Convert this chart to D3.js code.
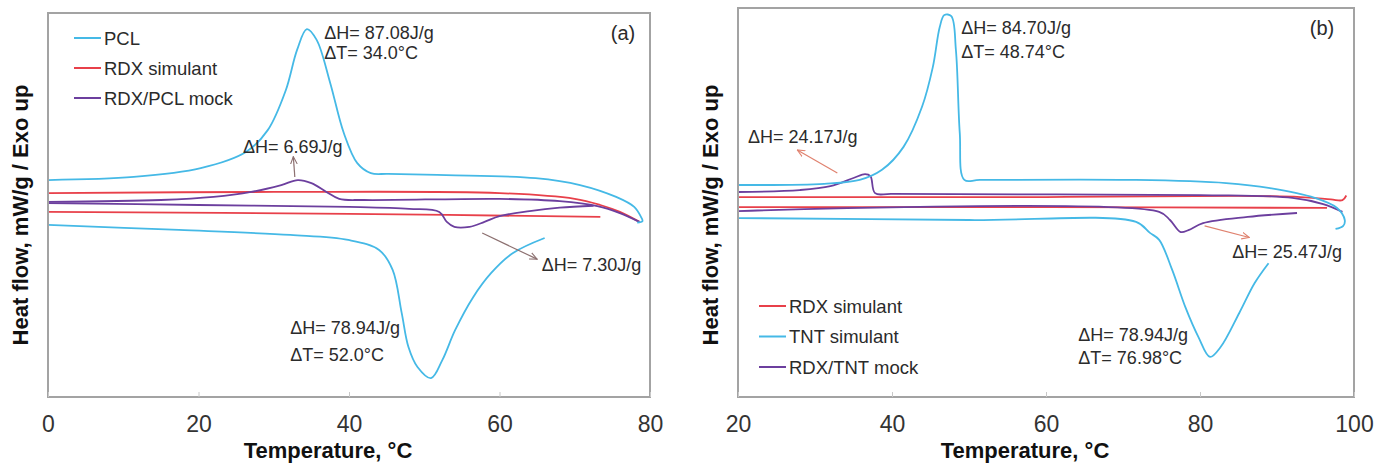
<!DOCTYPE html>
<html>
<head>
<meta charset="utf-8">
<script src="https://cdn.jsdelivr.net/npm/d3@7"></script>
<style>
  body { margin: 0; background: #fff; }
  svg text { font-family: Arial, "Liberation Sans", sans-serif; fill: #2b2b2b; }
</style>
</head>
<body>
<svg width="1389" height="470"></svg>
<script>
// ---- data (T in °C, heat flow in arbitrary units 0-100) ----
// panel (a)
var pclUpper = [[0,56.5],[11.4,57.3],[20.3,59.6],[26.3,63.8],[29.2,69.5],[31.6,79.9],[33.1,90.4],[34.4,95.8],
  [35.7,93.0],[37.5,81.8],[39.3,68.8],[41.1,60.9],[42.9,58.3],[45.2,58.1],[52.9,57.8],[64.8,57.0],[70.7,55.2],
  [75.5,52.1],[77.9,49.5],[78.8,46.9],[79.0,45.8],[78.3,45.4]];
var pclLower = [[0,44.8],[17.4,43.5],[32.2,42.2],[39.9,40.9],[44.0,38.3],[45.8,33.1],[47.0,21.9],[47.9,13.0],
  [49.1,7.8],[50.9,4.9],[52.4,9.6],[54.1,17.4],[56.5,26.0],[58.9,32.3],[61.8,37.5],[66.0,41.4]];
var rdxAUpper = [[0,53.1],[30,53.4],[60,53.1],[70,51.6],[73.4,50.0],[76,48.2],[78.6,45.6]];
var rdxALower = [[0,48.2],[40,47.7],[73.4,46.9]];
var mockAUpper = [[0,50.8],[15,51.3],[22,52.1],[27,53.4],[31,55.2],[33.2,56.5],[35,55.7],[37,53.4],[38.7,51.6],
  [42,51.3],[60,51.6],[68,51.0],[73,49.7],[76,47.9],[78.6,45.6]];
var mockALower = [[0,50.5],[20,50.0],[40,49.5],[48,49.0],[52,48.2],[53,45.6],[54,44.3],[56,44.3],[58,45.6],
  [60,47.1],[64,48.4],[68,49.3],[72.5,49.8]];

// panel (b)
var tntUpper = [[20,54.5],[31.2,54.8],[35.8,55.8],[38.7,58.4],[41.5,64.3],[43.9,74.6],[45.3,84.8],[46.2,95.1],
  [46.8,98.2],[47.7,97.9],[48.3,89.2],[48.8,67.9],[49.4,55.8],[51.4,55.8],[71.7,55.8],[83.4,55.0],[89.1,53.7],
  [94.9,51.2],[97.8,48.6],[98.8,45.5],[98.6,44.0],[97.6,43.2]];
var tntLower = [[20,46.0],[50,45.5],[71.7,45.0],[73.5,42.2],[74.7,40.4],[76.4,32.6],[78.1,23.1],[79.8,15.4],
  [81.3,10.3],[82.7,12.9],[85.1,21.6],[87.1,29.3],[88.9,34.4]];
var rdxBUpper = [[20,51.4],[60,51.4],[85,51.7],[93,51.4],[97,50.8],[98.5,50.6],[99,51.8]];
var rdxBLower = [[20,48.8],[60,48.8],[96.5,48.6]];
var mockBUpper = [[20,52.7],[28,53.2],[32,54.2],[35,56.3],[36.5,57.3],[37.2,56.8],[37.8,52.4],[40,52.2],
  [80,51.9],[92,51.2],[96,49.6],[98.5,47.6]];
var mockBLower = [[20,47.8],[74.7,47.6],[76.1,45.5],[77.5,42.4],[78.5,42.9],[80.4,44.7],[86.2,46.3],[92.6,47.3]];

var ticksA = [0, 20, 40, 60, 80];
var ticksB = [20, 40, 60, 80, 100];
var legendA = ["PCL", "RDX simulant", "RDX/PCL mock"];
var legendB = ["RDX simulant", "TNT simulant", "RDX/TNT mock"];

// annotations: [T, value, text]
var notesA = [[36.7,94.8,"ΔH= 87.08J/g"],[36.7,89.6,"ΔT= 34.0°C"],[25.9,65.0,"ΔH= 6.69J/g"],
  [65.6,34.3,"ΔH= 7.30J/g"],[32.2,18.0,"ΔH= 78.94J/g"],[32.2,10.9,"ΔT= 52.0°C"]];
var arrowsA = [[[32.8,57.3],[32.6,62.6]],[[57.7,42.7],[65.0,35.9]]];
var notesB = [[49.0,94.9,"ΔH= 84.70J/g"],[49.0,88.7,"ΔT= 48.74°C"],[21.3,66.8,"ΔH= 24.17J/g"],
  [84.2,37.3,"ΔH= 25.47J/g"],[64.2,15.9,"ΔH= 78.94J/g"],[64.2,10.0,"ΔT= 76.98°C"]];
var arrowsB = [[[32.9,57.6],[27.7,63.5]],[[80.6,44.0],[86.4,41.0]]];

var cyan = "#45b9e6", red = "#e8404a", purple = "#6c3f9e";

var svg = d3.select("svg");
var defs = svg.append("defs");
[["arrA", "#8c7070"], ["arrB", "#e0826f"]].forEach(function (m) {
  defs.append("marker").attr("id", m[0]).attr("viewBox", "0 0 10 10")
    .attr("refX", 9).attr("refY", 5).attr("markerWidth", 7).attr("markerHeight", 7)
    .attr("orient", "auto")
    .append("path").attr("d", "M0,1 L9,5 L0,9").attr("fill", "none")
    .attr("stroke", m[1]).attr("stroke-width", 1.3);
});

function panel(cfg) {
  var x = d3.scaleLinear().domain(cfg.xdom).range([cfg.left, cfg.right]);
  var y = d3.scaleLinear().domain([0, 100]).range([cfg.bottom, cfg.top]);
  var g = svg.append("g");

  var line = d3.line().x(d => x(d[0])).y(d => y(d[1])).curve(d3.curveCatmullRom.alpha(0.5));
  cfg.series.forEach(function (s) {
    g.append("path").datum(s[0]).attr("d", line)
      .attr("fill", "none").attr("stroke", s[1]).attr("stroke-width", 1.8);
  });

  // frame
  g.append("rect").attr("x", cfg.left).attr("y", cfg.top)
    .attr("width", cfg.right - cfg.left).attr("height", cfg.bottom - cfg.top)
    .attr("fill", "none").attr("stroke", "#a3a3a3").attr("stroke-width", 2);

  var ax = g.append("g").attr("transform", "translate(0," + cfg.bottom + ")")
    .call(d3.axisBottom(x).tickValues(cfg.ticks).tickSize(-5).tickPadding(19));
  ax.select(".domain").remove();
  ax.selectAll(".tick line").attr("stroke", "#c8c8c8");
  ax.selectAll("text").attr("font-size", 23).style("fill", "#333")
    .attr("font-family", "Arial, 'Liberation Sans', sans-serif");

  g.append("text").attr("x", (cfg.left + cfg.right) / 2 - 21).attr("y", 458)
    .attr("text-anchor", "middle").attr("font-size", 22).attr("font-weight", "bold")
    .style("fill", "#111").text("Temperature, °C");
  g.append("text").attr("transform", "translate(" + (cfg.left - 28) + ",215) rotate(-90)")
    .attr("text-anchor", "middle").attr("dominant-baseline", "central")
    .attr("font-size", 22).attr("font-weight", "bold").style("fill", "#111")
    .text("Heat flow, mW/g / Exo up");

  g.append("text").attr("x", cfg.tagX).attr("y", cfg.tagY).attr("text-anchor", "middle")
    .attr("dominant-baseline", "central").attr("font-size", 20).text(cfg.tag);

  cfg.arrows.forEach(function (a) {
    g.append("line").attr("x1", x(a[0][0])).attr("y1", y(a[0][1]))
      .attr("x2", x(a[1][0])).attr("y2", y(a[1][1]))
      .attr("stroke", cfg.arrowColor).attr("stroke-width", 1.2)
      .attr("marker-end", "url(#" + cfg.marker + ")");
  });
  cfg.notes.forEach(function (n) {
    g.append("text").attr("x", x(n[0])).attr("y", y(n[1]))
      .attr("dominant-baseline", "central").attr("font-size", 18).text(n[2]);
  });

  cfg.legend.forEach(function (name, i) {
    var ly = cfg.legY + i * cfg.legStep;
    g.append("line").attr("x1", cfg.legX).attr("x2", cfg.legX + 27).attr("y1", ly).attr("y2", ly)
      .attr("stroke", cfg.legColors[i]).attr("stroke-width", 2);
    g.append("text").attr("x", cfg.legX + 30).attr("y", ly).attr("dominant-baseline", "central")
      .attr("font-size", 18.5).text(name);
  });
}

panel({
  xdom: [0, 80], left: 48, right: 650, top: 13, bottom: 397, ticks: ticksA,
  series: [[rdxAUpper, red], [rdxALower, red], [mockAUpper, purple], [mockALower, purple],
           [pclUpper, cyan], [pclLower, cyan]],
  tag: "(a)", tagX: 623, tagY: 33,
  notes: notesA, arrows: arrowsA, arrowColor: "#8c7070", marker: "arrA",
  legend: legendA, legColors: [cyan, red, purple], legX: 74, legY: 38, legStep: 30
});

panel({
  xdom: [20, 100], left: 738, right: 1354, top: 8, bottom: 397, ticks: ticksB,
  series: [[rdxBUpper, red], [rdxBLower, red], [mockBUpper, purple], [mockBLower, purple],
           [tntUpper, cyan], [tntLower, cyan]],
  tag: "(b)", tagX: 1322, tagY: 28,
  notes: notesB, arrows: arrowsB, arrowColor: "#e0826f", marker: "arrB",
  legend: legendB, legColors: [red, cyan, purple], legX: 759, legY: 306, legStep: 30.5
});
</script>
</body>
</html>
